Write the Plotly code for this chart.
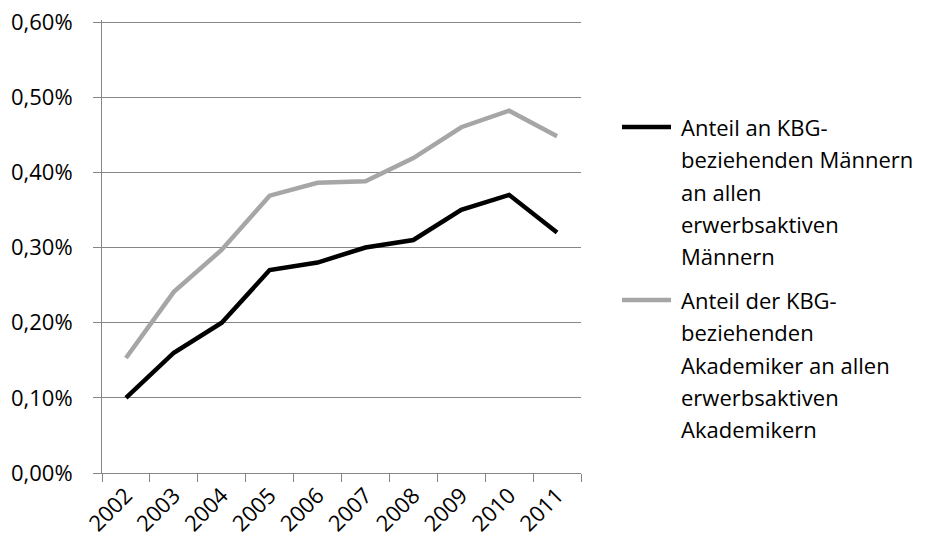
import plotly.graph_objects as go

years = ["2002", "2003", "2004", "2005", "2006", "2007", "2008", "2009", "2010", "2011"]
maenner = [0.0010, 0.0016, 0.0020, 0.0027, 0.0028, 0.0030, 0.0031, 0.0035, 0.0037, 0.0032]
akademiker = [0.00153, 0.00241, 0.00297, 0.00369, 0.00386, 0.00388, 0.00419, 0.00460, 0.00482, 0.00448]
name1_lines = ["Anteil an KBG-", "beziehenden Männern", "an allen", "erwerbsaktiven", "Männern"]
name2_lines = ["Anteil der KBG-", "beziehenden", "Akademiker an allen", "erwerbsaktiven", "Akademikern"]
y_ticks = [0, 0.001, 0.002, 0.003, 0.004, 0.005, 0.006]

FONT = "Open Sans"
GRID = "#868686"
C1 = "#000000"
C2 = "#A6A6A6"

W, H = 926, 545
L, R, T, B = 102, 581, 20, 473
YMAX = 0.006 + 2 * (0.001 / 75)

fig = go.Figure()
fig.add_trace(go.Scatter(x=years, y=maenner, mode="lines", name=" ".join(name1_lines),
                         line=dict(color=C1, width=4.5), showlegend=False))
fig.add_trace(go.Scatter(x=years, y=akademiker, mode="lines", name=" ".join(name2_lines),
                         line=dict(color=C2, width=4.5), showlegend=False))

def px2x(px):
    return (px - L) / (R - L)

def py2y(py):
    return (B - py) / (B - T)

annotations = []
shapes = []
spacing = 32.3
for lines, y0, col in [(name1_lines, 127, C1), (name2_lines, 300, C2)]:
    for i, t in enumerate(lines):
        annotations.append(dict(x=px2x(679), y=py2y(y0 + i * spacing), xref="paper", yref="paper",
                                text=t, showarrow=False, xanchor="left", yanchor="middle",
                                font=dict(family=FONT, size=22, color="#000000")))
    shapes.append(dict(type="line", xref="paper", yref="paper",
                       x0=px2x(622), x1=px2x(671), y0=py2y(y0), y1=py2y(y0),
                       line=dict(color=col, width=4.5)))

fig.update_layout(
    width=W, height=H,
    margin=dict(l=L, r=W - R, t=T, b=H - B, pad=0),
    paper_bgcolor="white", plot_bgcolor="white",
    separators=",.",
    font=dict(family=FONT, size=22, color="#000000"),
    annotations=annotations, shapes=shapes,
    showlegend=False,
)
fig.update_xaxes(type="category", range=[-0.5, 9.5], tickson="boundaries", ticks="outside", ticklen=8,
                 tickcolor=GRID, tickwidth=1, showline=True, linecolor=GRID, linewidth=1,
                 showgrid=False, tickangle=-45, tickfont=dict(family=FONT, size=22),
                 zeroline=False, automargin=False)
fig.update_yaxes(range=[0, YMAX], tickvals=y_ticks, tickformat=".2%", ticks="outside",
                 ticklen=8, tickcolor=GRID, tickwidth=1, showline=True, linecolor=GRID,
                 linewidth=1, showgrid=True, gridcolor=GRID, gridwidth=1, zeroline=False,
                 tickfont=dict(family=FONT, size=22), ticklabelstandoff=16, automargin=False,
                 ticklabeloverflow="allow")

fig.write_html("out.html", config={"displayModeBar": False},
               post_script="document.body.style.margin='0';document.body.style.overflow='hidden';")
